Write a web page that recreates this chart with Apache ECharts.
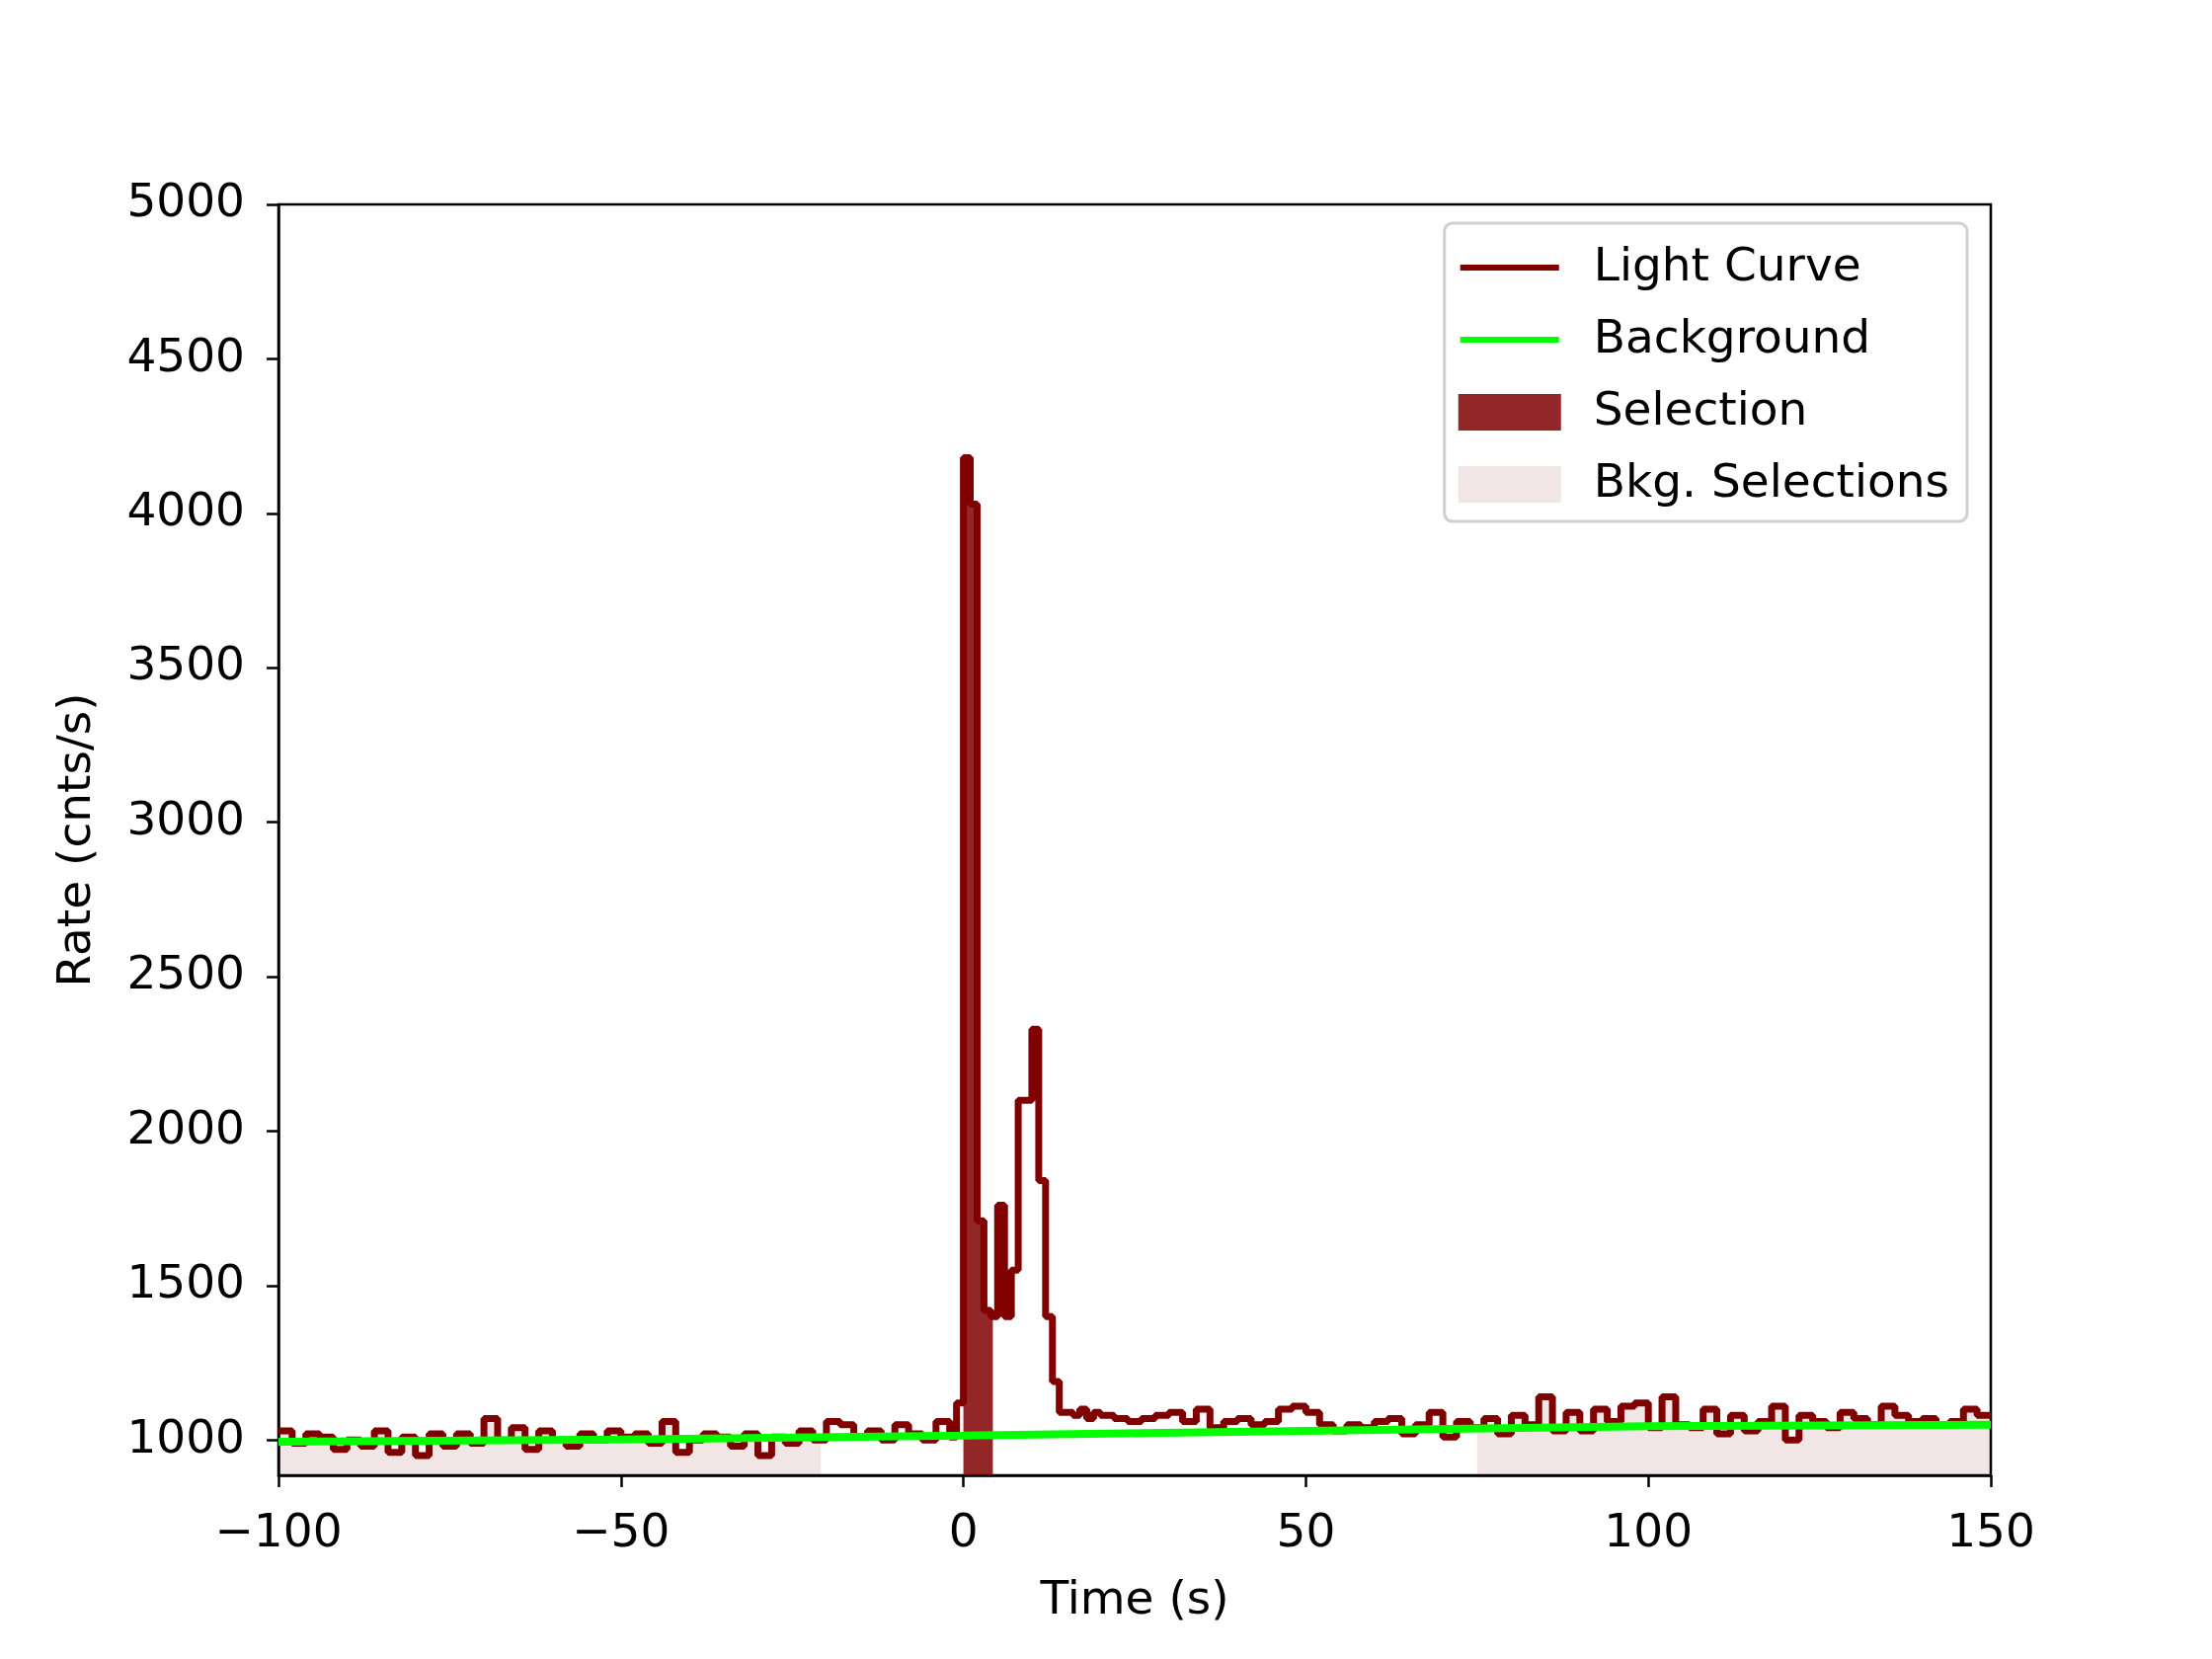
<!DOCTYPE html>
<html>
<head>
<meta charset="utf-8">
<script src="https://cdn.jsdelivr.net/npm/echarts@6/dist/echarts.min.js"></script>
<style>html,body{margin:0;background:#fff}#c{width:2240px;height:1680px}</style>
</head>
<body>
<div id="c"></div>
<script>
// light curve bins: [bin start (s), rate (cnts/s)]
var quietBefore = [[-100,1030],[-98,990],[-96,1020],[-94,1010],[-92,970],[-90,1000],[-88,980],[-86,1030],[-84,960],[-82,1010],
    [-80,950],[-78,1020],[-76,980],[-74,1020],[-72,990],[-70,1070],[-68,1000],[-66,1040],[-64,970],[-62,1030],
    [-60,1000],[-58,980],[-56,1020],[-54,1000],[-52,1030],[-50,1010],[-48,1020],[-46,990],[-44,1060],[-42,960],
    [-40,1000],[-38,1020],[-36,1010],[-34,980],[-32,1020],[-30,950],[-28,1010],[-26,990],[-24,1030],[-22,1000],
    [-20,1060],[-18,1050],[-16,1010],[-14,1030],[-12,1000],[-10,1050],[-8,1020],[-6,1000],[-4,1060]];
var burst = [[-2,1010],[-1,1120],[0,4180],[1,4030],[2,1710],[3,1420],[4,1400],[5,1760],[6,1400],[7,1550],
    [8,2100],[9,2100],[10,2330],[11,1840],[12,1400],[13,1190],[14,1090],[15,1090],[16,1080],[17,1100],[18,1070],[19,1090]];
var quietAfter = [[20,1080],[22,1070],[24,1060],[26,1070],[28,1080],[30,1090],[32,1060],[34,1100],[36,1040],[38,1060],
    [40,1070],[42,1050],[44,1060],[46,1100],[48,1110],[50,1090],[52,1050],[54,1030],[56,1050],[58,1040],
    [60,1060],[62,1070],[64,1020],[66,1050],[68,1090],[70,1010],[72,1060],[74,1040],[76,1070],[78,1020],
    [80,1080],[82,1050],[84,1140],[86,1030],[88,1090],[90,1030],[92,1100],[94,1060],[96,1110],[98,1120],
    [100,1040],[102,1140],[104,1050],[106,1040],[108,1100],[110,1020],[112,1080],[114,1030],[116,1060],[118,1110],
    [120,1000],[122,1080],[124,1060],[126,1040],[128,1090],[130,1070],[132,1050],[134,1110],[136,1080],[138,1060],
    [140,1070],[142,1050],[144,1060],[146,1100],[148,1080],[150,1080]];
var background = [[-100,995],[-50,1002],[0,1015],[50,1030],[100,1045],[150,1050]];
var selection = [0, 4.3];
var bkgSelections = [[-100, -20.8], [75, 150]];
var yTicks = [1000, 1500, 2000, 2500, 3000, 3500, 4000, 4500, 5000];

var lightCurve = quietBefore.concat(burst, quietAfter);

// piece of the step curve between t0 and t1, for the filled selections
function curvePiece(t0, t1) {
    var out = [];
    for (var i = 0; i < lightCurve.length; i++) {
        var t = lightCurve[i][0], next = i + 1 < lightCurve.length ? lightCurve[i + 1][0] : t;
        if (next <= t0 || t >= t1) continue;
        out.push([Math.max(t, t0), lightCurve[i][1]]);
    }
    out.push([t1, out[out.length - 1][1]]);
    return out;
}
function fillSeries(name, range, color, z) {
    return {name: name, type: 'line', step: 'end', data: curvePiece(range[0], range[1]), symbol: 'none', z: z,
        lineStyle: {width: 0}, itemStyle: {color: color}, areaStyle: {color: color, opacity: 1, origin: 'start'}};
}

var lineIcon = 'path://M0,0L1,0M0,15H100V21H0ZM99,37L100,37';
var font = 'DejaVu Sans';
var chart = echarts.init(document.getElementById('c'));
chart.setOption({
    animation: false,
    textStyle: {fontFamily: font},
    grid: {left: 282, right: 224, top: 207, bottom: 186, show: true, borderColor: '#000', borderWidth: 2.5},
    legend: {
        right: 248, top: 226, orient: 'vertical', itemGap: 26, itemWidth: 104, itemHeight: 37,
        padding: [22, 18, 14, 14], borderColor: '#d0d0d0', borderWidth: 3, borderRadius: 8, backgroundColor: '#fff',
        textStyle: {fontSize: 47, color: '#000', fontFamily: font, padding: [0, 0, 0, 28]},
        data: [{name: 'Light Curve', icon: lineIcon}, {name: 'Background', icon: lineIcon},
               {name: 'Selection', icon: 'rect'}, {name: 'Bkg. Selections', icon: 'rect'}]
    },
    xAxis: {
        type: 'value', min: -100, max: 150, interval: 50,
        name: 'Time (s)', nameLocation: 'middle', nameGap: 104,
        nameTextStyle: {fontSize: 47, color: '#000'},
        axisLine: {onZero: false, lineStyle: {color: '#000', width: 2.5}},
        axisTick: {length: 12, lineStyle: {width: 2.5, color: '#000'}},
        axisLabel: {fontSize: 47, color: '#000', margin: 36, formatter: function (v) { return String(v).replace('-', '\u2212'); }},
        splitLine: {show: false}
    },
    yAxis: {
        type: 'value', min: 886, max: 5000,
        name: 'Rate (cnts/s)', nameLocation: 'middle', nameGap: 180,
        nameTextStyle: {fontSize: 47, color: '#000'},
        axisLine: {onZero: false, lineStyle: {color: '#000', width: 2.5}},
        axisTick: {length: 12, lineStyle: {width: 2.5, color: '#000'}, customValues: yTicks},
        axisLabel: {fontSize: 47, color: '#000', margin: 34, customValues: yTicks, formatter: function (v) { return String(v); }},
        splitLine: {show: false}
    },
    series: [
        fillSeries('Bkg. Selections', bkgSelections[0], 'rgba(128,0,0,0.1)', 1),
        fillSeries('Bkg. Selections', bkgSelections[1], 'rgba(128,0,0,0.1)', 1),
        fillSeries('Selection', selection, 'rgba(128,0,0,0.85)', 2),
        {name: 'Light Curve', type: 'line', step: 'end', data: lightCurve, symbol: 'none', z: 3,
         lineStyle: {color: '#800000', width: 7}, itemStyle: {color: '#800000'}},
        {name: 'Background', type: 'line', data: background, symbol: 'none', z: 4,
         lineStyle: {color: '#00ff00', width: 8}, itemStyle: {color: '#00ff00'}}
    ]
});
</script>
</body>
</html>
